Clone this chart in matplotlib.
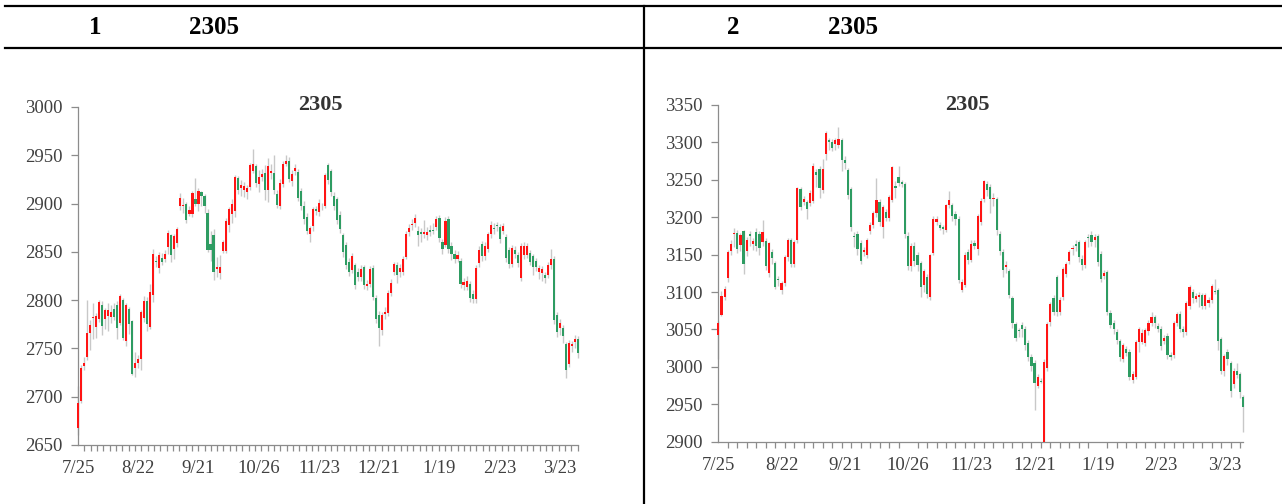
import matplotlib.pyplot as plt
import numpy as np
from matplotlib.lines import Line2D
from matplotlib.patches import Rectangle

# ---------------- data ----------------
dates = ['7/25', '8/22', '9/21', '10/26', '11/23', '12/21', '1/19', '2/23', '3/23']
contract = '2305'

# chart 1 (daily OHLC)
open1 = [2668, 2696, 2732, 2741, 2766, 2781, 2772, 2780, 2795, 2780,
         2784, 2783, 2791, 2795, 2776, 2800, 2758, 2791, 2778, 2730,
         2735, 2739, 2781, 2799, 2772, 2805, 2841, 2833, 2844, 2843,
         2855, 2867, 2853, 2859, 2897, 2897, 2900, 2889, 2889, 2905,
         2900, 2912, 2908, 2890, 2858, 2867, 2832, 2828, 2851, 2851,
         2878, 2889, 2892, 2926, 2916, 2914, 2912, 2917, 2934, 2939,
         2920, 2927, 2932, 2914, 2932, 2932, 2910, 2897, 2920, 2941,
         2944, 2923, 2934, 2933, 2913, 2898, 2886, 2868, 2877, 2894,
         2891, 2898, 2897, 2940, 2934, 2908, 2905, 2888, 2867, 2857,
         2840, 2831, 2836, 2829, 2824, 2834, 2815, 2817, 2833, 2802,
         2785, 2769, 2786, 2787, 2807, 2829, 2836, 2829, 2829, 2845,
         2871, 2878, 2880, 2872, 2871, 2868, 2867, 2873, 2873, 2876,
         2885, 2860, 2857, 2884, 2856, 2848, 2843, 2841, 2816, 2814,
         2817, 2806, 2801, 2838, 2858, 2846, 2853, 2868, 2875, 2878,
         2876, 2872, 2865, 2852, 2837, 2852, 2847, 2823, 2847, 2847,
         2849, 2846, 2841, 2829, 2828, 2826, 2826, 2836, 2843, 2785,
         2771, 2771, 2755, 2734, 2752, 2757, 2760]
close1 = [2694, 2730, 2735, 2766, 2774, 2783, 2784, 2798, 2773, 2790,
          2790, 2788, 2783, 2771, 2804, 2761, 2795, 2775, 2724, 2735,
          2739, 2788, 2799, 2775, 2808, 2848, 2839, 2847, 2840, 2848,
          2870, 2847, 2866, 2874, 2906, 2899, 2883, 2893, 2911, 2900,
          2913, 2908, 2897, 2852, 2852, 2829, 2834, 2834, 2860, 2882,
          2894, 2900, 2928, 2914, 2919, 2918, 2916, 2940, 2941, 2921,
          2928, 2931, 2914, 2939, 2934, 2914, 2899, 2921, 2941, 2944,
          2925, 2931, 2937, 2906, 2898, 2884, 2872, 2875, 2894, 2892,
          2901, 2897, 2930, 2924, 2912, 2897, 2883, 2874, 2850, 2836,
          2829, 2846, 2816, 2824, 2832, 2816, 2817, 2832, 2803, 2780,
          2771, 2785, 2788, 2807, 2818, 2837, 2826, 2833, 2843, 2869,
          2875, 2879, 2885, 2867, 2868, 2871, 2871, 2871, 2872, 2884,
          2864, 2853, 2882, 2853, 2848, 2843, 2847, 2817, 2819, 2820,
          2802, 2801, 2833, 2852, 2846, 2856, 2868, 2878, 2874, 2877,
          2863, 2877, 2844, 2837, 2854, 2848, 2838, 2856, 2856, 2856,
          2840, 2834, 2834, 2833, 2832, 2823, 2836, 2843, 2779, 2767,
          2776, 2763, 2728, 2756, 2755, 2760, 2745]
high1 = [2711, 2733, 2741, 2800, 2779, 2797, 2787, 2800, 2799, 2792,
         2797, 2795, 2797, 2799, 2806, 2802, 2797, 2793, 2779, 2746,
         2743, 2790, 2804, 2803, 2817, 2853, 2846, 2850, 2849, 2852,
         2873, 2869, 2868, 2876, 2911, 2906, 2902, 2898, 2913, 2926,
         2916, 2913, 2910, 2894, 2872, 2874, 2845, 2847, 2862, 2885,
         2896, 2905, 2930, 2929, 2924, 2922, 2919, 2942, 2957, 2941,
         2935, 2936, 2940, 2947, 2941, 2950, 2914, 2925, 2944, 2950,
         2948, 2935, 2941, 2936, 2916, 2903, 2890, 2877, 2896, 2898,
         2905, 2901, 2932, 2942, 2936, 2912, 2907, 2892, 2870, 2860,
         2844, 2849, 2838, 2833, 2836, 2836, 2821, 2835, 2836, 2805,
         2789, 2788, 2793, 2810, 2822, 2840, 2839, 2837, 2846, 2872,
         2879, 2884, 2889, 2877, 2875, 2883, 2876, 2878, 2880, 2887,
         2888, 2863, 2886, 2887, 2860, 2852, 2851, 2844, 2823, 2825,
         2820, 2810, 2836, 2856, 2861, 2860, 2871, 2882, 2880, 2881,
         2879, 2880, 2868, 2855, 2857, 2856, 2850, 2859, 2860, 2859,
         2852, 2848, 2844, 2836, 2835, 2829, 2839, 2853, 2846, 2788,
         2780, 2774, 2757, 2759, 2758, 2764, 2763]
low1 = [2660, 2694, 2728, 2738, 2748, 2760, 2761, 2777, 2764, 2770,
        2768, 2776, 2779, 2760, 2774, 2759, 2753, 2765, 2722, 2720,
        2730, 2728, 2777, 2768, 2770, 2798, 2834, 2828, 2836, 2839,
        2848, 2840, 2843, 2855, 2893, 2890, 2880, 2887, 2886, 2897,
        2892, 2898, 2890, 2850, 2841, 2821, 2824, 2822, 2849, 2849,
        2871, 2880, 2886, 2910, 2908, 2907, 2905, 2914, 2932, 2917,
        2912, 2923, 2904, 2902, 2925, 2910, 2895, 2894, 2917, 2939,
        2922, 2918, 2930, 2903, 2893, 2879, 2869, 2860, 2872, 2888,
        2887, 2893, 2895, 2920, 2908, 2893, 2879, 2870, 2845, 2832,
        2825, 2828, 2812, 2820, 2820, 2812, 2811, 2814, 2800, 2776,
        2753, 2764, 2780, 2784, 2804, 2826, 2818, 2824, 2826, 2843,
        2866, 2873, 2876, 2856, 2860, 2864, 2862, 2866, 2868, 2873,
        2860, 2848, 2855, 2849, 2842, 2838, 2840, 2813, 2810, 2810,
        2798, 2797, 2797, 2834, 2841, 2842, 2850, 2864, 2869, 2872,
        2859, 2868, 2840, 2833, 2834, 2844, 2834, 2820, 2843, 2844,
        2836, 2826, 2830, 2822, 2820, 2818, 2823, 2832, 2775, 2762,
        2764, 2756, 2719, 2731, 2746, 2750, 2740]

# chart 2 (daily OHLC)
open2 = [3043, 3070, 3094, 3119, 3155, 3177, 3179, 3163, 3181, 3155,
         3178, 3164, 3180, 3178, 3167, 3168, 3125, 3153, 3139, 3118,
         3103, 3112, 3147, 3170, 3137, 3169, 3238, 3221, 3220, 3219,
         3222, 3260, 3265, 3237, 3285, 3303, 3300, 3298, 3297, 3303,
         3276, 3263, 3238, 3175, 3178, 3166, 3154, 3150, 3181, 3190,
         3206, 3221, 3187, 3207, 3199, 3223, 3242, 3254, 3247, 3245,
         3175, 3135, 3162, 3149, 3139, 3109, 3120, 3094, 3152, 3194,
         3190, 3187, 3183, 3217, 3216, 3204, 3198, 3103, 3110, 3153,
         3143, 3166, 3157, 3194, 3225, 3245, 3241, 3224, 3224, 3178,
         3153, 3134, 3128, 3092, 3057, 3049, 3056, 3050, 3032, 3013,
         3005, 2975, 2981, 2895, 2998, 3060, 3092, 3120, 3073, 3094,
         3124, 3142, 3157, 3164, 3167, 3144, 3136, 3173, 3176, 3169,
         3175, 3151, 3122, 3127, 3072, 3058, 3047, 3034, 3010, 3024,
         3020, 2982, 2987, 3033, 3033, 3032, 3048, 3058, 3066, 3054,
         3050, 3035, 3041, 3016, 3016, 3058, 3071, 3050, 3046, 3081,
         3100, 3091, 3093, 3096, 3081, 3085, 3090, 3102, 3103, 3037,
         2995, 3020, 3005, 2977, 2995, 2990, 2960]
close2 = [3058, 3095, 3104, 3153, 3164, 3179, 3157, 3176, 3137, 3170,
          3175, 3168, 3162, 3159, 3180, 3135, 3165, 3145, 3107, 3116,
          3112, 3147, 3170, 3138, 3167, 3239, 3214, 3224, 3211, 3232,
          3269, 3256, 3239, 3265, 3312, 3301, 3293, 3303, 3304, 3276,
          3272, 3230, 3187, 3173, 3157, 3141, 3156, 3170, 3190, 3206,
          3223, 3193, 3214, 3199, 3227, 3267, 3239, 3246, 3244, 3178,
          3135, 3162, 3142, 3136, 3107, 3128, 3098, 3149, 3198, 3197,
          3186, 3184, 3216, 3223, 3202, 3198, 3116, 3114, 3150, 3143,
          3164, 3162, 3202, 3222, 3248, 3237, 3225, 3226, 3183, 3155,
          3129, 3136, 3096, 3058, 3038, 3048, 3050, 3029, 3013, 3001,
          2979, 2987, 2980, 3007, 3057, 3084, 3074, 3074, 3090, 3131,
          3137, 3153, 3159, 3161, 3147, 3136, 3167, 3172, 3167, 3174,
          3140, 3117, 3125, 3074, 3056, 3050, 3036, 3013, 3029, 3018,
          2987, 2991, 3033, 3050, 3045, 3049, 3058, 3066, 3058, 3050,
          3028, 3039, 3016, 3013, 3058, 3071, 3050, 3046, 3085, 3107,
          3092, 3095, 3096, 3081, 3096, 3090, 3108, 3100, 3034, 2995,
          3014, 3011, 2968, 2995, 2989, 2967, 2947]
high2 = [3061, 3102, 3108, 3156, 3170, 3185, 3183, 3179, 3183, 3173,
         3181, 3172, 3185, 3181, 3196, 3172, 3167, 3157, 3142, 3122,
         3115, 3150, 3172, 3172, 3170, 3241, 3240, 3228, 3223, 3236,
         3273, 3264, 3268, 3278, 3315, 3306, 3304, 3306, 3321, 3306,
         3282, 3266, 3240, 3180, 3181, 3169, 3160, 3172, 3194, 3208,
         3252, 3224, 3217, 3211, 3230, 3269, 3248, 3268, 3250, 3247,
         3180, 3165, 3167, 3153, 3142, 3131, 3124, 3151, 3201, 3201,
         3194, 3190, 3218, 3235, 3219, 3208, 3201, 3117, 3153, 3157,
         3169, 3170, 3204, 3226, 3250, 3249, 3244, 3233, 3227, 3181,
         3157, 3141, 3131, 3095, 3060, 3052, 3060, 3054, 3036, 3017,
         3009, 2990, 2985, 3010, 3060, 3087, 3096, 3123, 3094, 3134,
         3140, 3156, 3163, 3170, 3170, 3150, 3170, 3178, 3181, 3177,
         3178, 3155, 3130, 3130, 3076, 3062, 3050, 3037, 3032, 3028,
         3024, 2995, 3036, 3053, 3050, 3052, 3062, 3073, 3070, 3058,
         3055, 3043, 3045, 3020, 3061, 3074, 3075, 3054, 3088, 3110,
         3104, 3099, 3100, 3099, 3099, 3094, 3111, 3118, 3105, 3040,
         3017, 3024, 3008, 2998, 3005, 2993, 2963]
low2 = [3010, 3068, 3090, 3113, 3150, 3160, 3152, 3155, 3124, 3148,
        3162, 3156, 3155, 3150, 3162, 3130, 3120, 3138, 3104, 3108,
        3097, 3108, 3142, 3133, 3133, 3165, 3210, 3216, 3197, 3215,
        3219, 3240, 3226, 3233, 3276, 3290, 3288, 3290, 3292, 3262,
        3265, 3225, 3182, 3160, 3150, 3138, 3148, 3146, 3178, 3185,
        3200, 3188, 3172, 3195, 3195, 3220, 3226, 3242, 3240, 3172,
        3130, 3128, 3135, 3128, 3093, 3100, 3092, 3090, 3149, 3190,
        3183, 3178, 3180, 3213, 3195, 3190, 3112, 3100, 3107, 3138,
        3140, 3158, 3150, 3190, 3220, 3228, 3205, 3215, 3176, 3150,
        3120, 3125, 3092, 3052, 3034, 3040, 3040, 3022, 3008, 2995,
        2942, 2972, 2978, 2880, 2995, 3055, 3070, 3068, 3070, 3090,
        3120, 3138, 3150, 3155, 3140, 3130, 3132, 3160, 3162, 3160,
        3135, 3113, 3118, 3070, 3052, 3044, 3030, 3008, 3007, 3014,
        2982, 2978, 2984, 3020, 3030, 3028, 3043, 3054, 3052, 3046,
        3022, 3030, 3010, 3009, 3012, 3055, 3046, 3040, 3042, 3078,
        3086, 3087, 3080, 3077, 3078, 3080, 3085, 3097, 3022, 2990,
        2988, 3003, 2960, 2972, 2985, 2958, 2913]

# ---------------- plot ----------------
W, H = 1282, 504
RED = '#ff1414'
GREEN = '#2e9c62'
SERIF = ['Liberation Serif', 'DejaVu Serif']

fig = plt.figure(figsize=(W / 100, H / 100), dpi=100)


def box(x0, y0, x1, y1):
    # pixel box (top-left origin) -> figure fraction
    return [x0 / W, 1 - y1 / H, (x1 - x0) / W, (y1 - y0) / H]


def candles(ax, o, h, l, c, ymin, ymax, minor_step):
    o, h, l, c = map(np.asarray, (o, h, l, c))
    x = np.arange(len(o))
    up = c >= o
    wicks = ax.vlines(x, l, h, color='#c8c8c8', lw=1, zorder=1)
    body = np.where(np.abs(c - o) < 1, np.where(up, 1.2, -1.2), c - o)
    bars = ax.bar(x, body, bottom=o, width=0.7, color=np.where(up, RED, GREEN),
                  lw=0, zorder=4)

    # clip only top/bottom so the first and last candles are drawn whole
    clip = Rectangle((-0.02, 0), 1.04, 1.0, transform=ax.transAxes,
                     fill=False, visible=False)
    ax.add_patch(clip)
    wicks.set_clip_path(clip)
    for b in bars:
        b.set_clip_path(clip)

    ax.set_xlim(0, len(o) - 1)
    ax.set_ylim(ymin, ymax)
    ax.set_yticks(np.arange(ymin, ymax + 1, 50))
    ax.set_xticks(np.arange(0, len(o), 20))
    ax.set_xticklabels(dates)
    ax.set_xticks(np.arange(0, len(o) - 0.5, minor_step), minor=True)

    for s in ['top', 'right']:
        ax.spines[s].set_visible(False)
    for s in ['left', 'bottom']:
        ax.spines[s].set_color('#8c8c8c')
        ax.spines[s].set_linewidth(0.9)
        ax.spines[s].set_zorder(3)
    ax.tick_params(axis='y', length=5, width=0.9, color='#8c8c8c', pad=6,
                   labelsize=13.5, labelcolor='#404040')
    ax.tick_params(axis='x', which='major', length=0, pad=11,
                   labelsize=13.5, labelcolor='#404040')
    ax.tick_params(axis='x', which='minor', length=4, width=0.9,
                   color='#8c8c8c')
    for t in ax.get_xticklabels() + ax.get_yticklabels():
        t.set_family(SERIF)


ax1 = fig.add_axes(box(78, 107, 578, 445))
candles(ax1, open1, high1, low1, close1, 2650, 3000, 2.1)

ax2 = fig.add_axes(box(718.3, 105, 1243.3, 441.7))
candles(ax2, open2, high2, low2, close2, 2900, 3350, 3)

# chart titles
fig.text(320 / W, 1 - 105 / H, contract, ha='center', va='center',
         fontsize=16, fontweight='bold', family=SERIF, color='#333333')
fig.text(967 / W, 1 - 105 / H, contract, ha='center', va='center',
         fontsize=16, fontweight='bold', family=SERIF, color='#333333')

# table style header
lines = [([5, W], [6, 6]), ([5, W], [48, 48]), ([644, 644], [6, H])]
for xs, ys in lines:
    fig.add_artist(Line2D([v / W for v in xs], [1 - v / H for v in ys],
                          color='black', lw=1.6, transform=fig.transFigure))

for x, s in [(95, '1'), (214, contract), (733, '2'), (853, contract)]:
    fig.text(x / W, 1 - 28 / H, s, ha='center', va='center', fontsize=18,
             fontweight='bold', family=SERIF, color='black')

fig.savefig('out.png', dpi=100)
